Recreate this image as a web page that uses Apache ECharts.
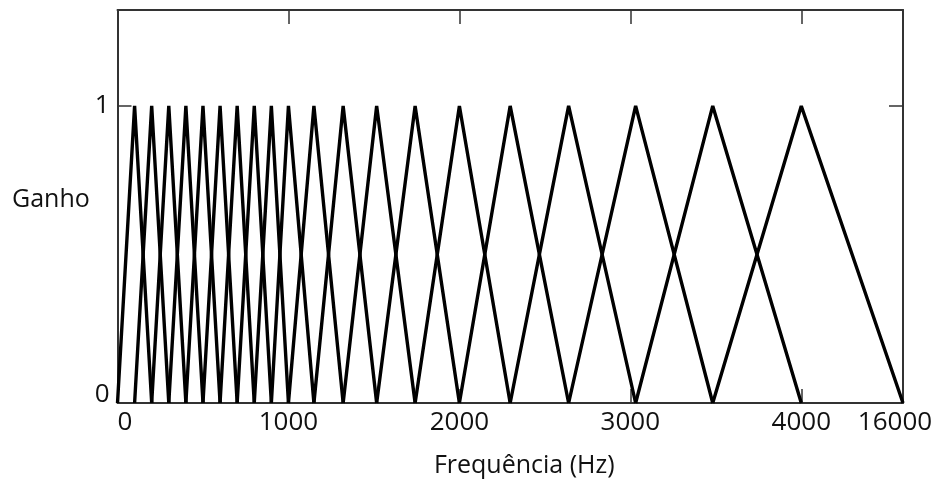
<!DOCTYPE html>
<html>
<head>
<meta charset="utf-8">
<script src="https://cdn.jsdelivr.net/npm/echarts@6/dist/echarts.min.js"></script>
<style>
  html, body { margin: 0; padding: 0; background: #fff; }
  #main { width: 940px; height: 483px; }
</style>
</head>
<body>
<div id="main"></div>
<script>
// filter edge / centre frequencies (Hz): linear up to 1000, then log-spaced
var edgeFreqs = [0, 100, 200, 300, 400, 500, 600, 700, 800, 900, 1000,
    1149, 1320, 1516, 1741, 2000, 2297, 2639, 3031, 3482, 4000, 4595];
// gain of each triangle at its left edge, centre, right edge
var triGain = [0, 1, 0];

// x axis ticks and labels
var xTickValues = [1000, 2000, 3000, 4000];
var xLabelValues = [0, 1000, 2000, 3000, 4000, 4595];
var xLabelTexts = ['0', '1000', '2000', '3000', '4000', '16000'];
// y axis ticks and labels
var yLabelValues = [0, 1];
var yLabelTexts = ['0', '1'];

var FONT = '"Open Sans", "Noto Sans", sans-serif';
var xMax = edgeFreqs[edgeFreqs.length - 1];
var yMax = 1.323;

// uma serie por filtro triangular
var series = [];
for (var k = 0; k + 2 < edgeFreqs.length; k++) {
    series.push({
        type: 'line',
        xAxisIndex: 0,
        yAxisIndex: 0,
        showSymbol: false,
        silent: true,
        lineStyle: { color: '#000', width: 3.4 },
        data: [
            [edgeFreqs[k], triGain[0]],
            [edgeFreqs[k + 1], triGain[1]],
            [edgeFreqs[k + 2], triGain[2]]
        ]
    });
}

var frameLine = { show: true, onZero: false, lineStyle: { color: '#333', width: 2 } };
var tickStyle = { color: '#333', width: 1.5 };

var myChart = echarts.init(document.getElementById('main'), null, { renderer: 'canvas' });
var option = {
    animation: false,
    backgroundColor: '#fff',
    title: {
        text: 'Ganho',
        left: 7,
        top: 182,
        textStyle: { fontFamily: FONT, fontSize: 25, fontWeight: 'normal', color: '#111' }
    },
    grid: { left: 117.5, right: 37, top: 10, bottom: 80 },
    xAxis: [{
        type: 'value',
        position: 'bottom',
        min: 0,
        max: xMax,
        axisLine: frameLine,
        splitLine: { show: false },
        axisTick: { show: true, inside: true, length: 14, customValues: xTickValues, lineStyle: tickStyle },
        axisLabel: {
            customValues: xLabelValues,
            margin: 7,
            alignMinLabel: 'left',
            color: '#111',
            fontFamily: FONT,
            fontSize: 26,
            formatter: function (v) {
                var i = xLabelValues.indexOf(v);
                var t = i >= 0 ? xLabelTexts[i] : '';
                return i === xLabelValues.length - 1 ? '{last|' + t + '}' : t;
            },
            rich: { last: { fontFamily: FONT, fontSize: 26, color: '#111', padding: [0, 16, 0, 0] } }
        },
        name: 'Frequência (Hz)',
        nameLocation: 'middle',
        nameGap: 50,
        nameTextStyle: { fontFamily: FONT, fontSize: 25, color: '#111', padding: [0, 0, 0, 28] }
    }, {
        type: 'value',
        position: 'top',
        min: 0,
        max: xMax,
        axisLine: frameLine,
        splitLine: { show: false },
        axisTick: { show: true, inside: true, length: 14, customValues: xTickValues, lineStyle: tickStyle },
        axisLabel: { show: false }
    }],
    yAxis: [{
        type: 'value',
        position: 'left',
        min: 0,
        max: yMax,
        axisLine: frameLine,
        splitLine: { show: false },
        axisTick: { show: true, inside: true, length: 14, customValues: yLabelValues, lineStyle: tickStyle },
        axisLabel: {
            customValues: yLabelValues,
            margin: 8,
            color: '#111',
            fontFamily: FONT,
            fontSize: 26,
            formatter: function (v) {
                var i = yLabelValues.indexOf(v);
                var t = i >= 0 ? yLabelTexts[i] : '';
                return v === 0 ? '{zero|' + t + '}' : t;
            },
            rich: { zero: { fontFamily: FONT, fontSize: 26, color: '#111', padding: [0, 0, 16, 0] } }
        }
    }, {
        type: 'value',
        position: 'right',
        min: 0,
        max: yMax,
        axisLine: frameLine,
        splitLine: { show: false },
        axisTick: { show: true, inside: true, length: 14, customValues: [1], lineStyle: tickStyle },
        axisLabel: { show: false }
    }],
    series: series
};
myChart.setOption(option);
</script>
</body>
</html>
